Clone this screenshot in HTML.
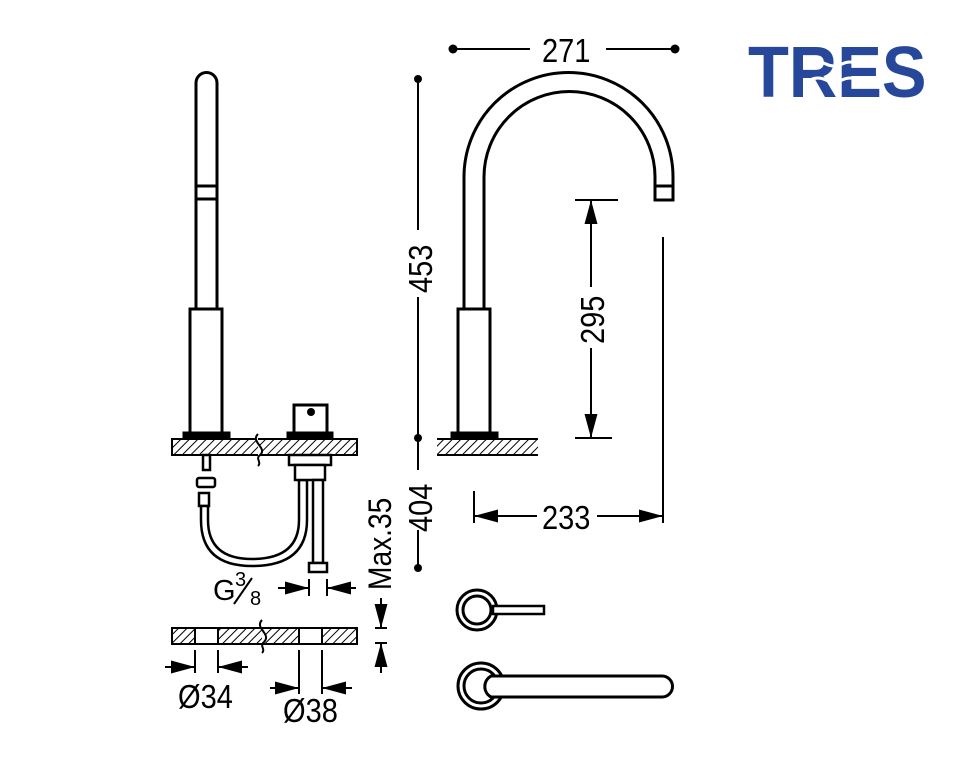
<!DOCTYPE html>
<html><head><meta charset="utf-8"><style>
html,body{margin:0;padding:0;background:#fff;width:976px;height:759px;overflow:hidden}
svg{display:block}
text{font-family:"Liberation Sans",sans-serif;fill:#000}
</style></head><body>
<svg width="976" height="759" viewBox="0 0 976 759" xmlns="http://www.w3.org/2000/svg">
<defs>
<pattern id="h" patternUnits="userSpaceOnUse" width="6" height="6" patternTransform="rotate(45)">
<rect width="6" height="6" fill="#fff"/><line x1="0" y1="0" x2="0" y2="6" stroke="#000" stroke-width="2"/>
</pattern>
<marker id="a" viewBox="0 0 10 10" refX="10" refY="5" markerWidth="24" markerHeight="24" markerUnits="userSpaceOnUse" orient="auto"><path d="M0,2.3 L10,5 L0,7.7Z" fill="#000"/></marker>
</defs>
<g fill="none" stroke="#000" stroke-width="3">
<path d="M196,309 V83 A10.5,10.5 0 0 1 217,83 V309"/>
<line x1="196" y1="186" x2="217" y2="186"/><line x1="196" y1="199" x2="217" y2="199"/>
<rect x="190" y="309" width="32" height="125"/>
<rect x="184" y="433" width="45" height="4" fill="#000"/>
<rect x="294" y="405" width="33" height="28"/>
<rect x="288" y="433" width="44" height="4" fill="#000"/>
</g>
<circle cx="311" cy="412" r="4" fill="#000"/>
<rect x="172" y="439" width="185" height="16" fill="url(#h)" stroke="#000" stroke-width="2"/>
<path d="M258,434 C250,442 268,448 260,455 C255,459 262,462 258,466" fill="#fff" stroke="#000" stroke-width="2"/>
<g fill="#fff" stroke="#000" stroke-width="2.5">
<rect x="203" y="455" width="7" height="15"/>
<rect x="197" y="478" width="18" height="9" rx="2"/>
<rect x="199" y="493" width="10" height="13"/>
<path d="M201,506 V520 Q201,566 252,566 Q307,566 307,520 V480 H299 V520 Q299,559 252,559 Q208,559 208,520 V506Z"/>
<rect x="289" y="455" width="42" height="10"/>
<rect x="295" y="465" width="30" height="15"/>
<rect x="313" y="480" width="10" height="83"/>
<rect x="309" y="563" width="18" height="9"/>
</g>
<text x="213" y="600" font-size="29">G</text>
<text x="235" y="586" font-size="20">3</text>
<line x1="234" y1="604" x2="252" y2="578" stroke="#000" stroke-width="2"/>
<text x="250" y="605" font-size="20">8</text>
<g stroke="#000" stroke-width="2">
<line x1="309" y1="579" x2="309" y2="596"/><line x1="327" y1="579" x2="327" y2="596"/>
<line x1="278" y1="588" x2="309" y2="588" marker-end="url(#a)"/>
<line x1="356" y1="588" x2="327" y2="588" marker-end="url(#a)"/>
</g>
<rect x="172" y="628" width="185" height="16" fill="url(#h)" stroke="#000" stroke-width="2"/>
<rect x="195" y="628" width="23" height="16" fill="#fff" stroke="#000" stroke-width="2"/>
<rect x="299" y="628" width="23" height="16" fill="#fff" stroke="#000" stroke-width="2"/>
<path d="M262,620 C254,628 272,634 264,642 C259,646 266,649 262,653" fill="#fff" stroke="#000" stroke-width="2"/>
<g stroke="#000" stroke-width="2">
<line x1="195" y1="650" x2="195" y2="673"/><line x1="218" y1="650" x2="218" y2="673"/>
<line x1="165" y1="667" x2="195" y2="667" marker-end="url(#a)"/>
<line x1="248" y1="667" x2="218" y2="667" marker-end="url(#a)"/>
<line x1="299" y1="650" x2="299" y2="694"/><line x1="322" y1="650" x2="322" y2="694"/>
<line x1="270" y1="688" x2="299" y2="688" marker-end="url(#a)"/>
<line x1="352" y1="688" x2="322" y2="688" marker-end="url(#a)"/>
<line x1="375" y1="628" x2="387" y2="628"/><line x1="375" y1="643" x2="387" y2="643"/>
<line x1="381" y1="598" x2="381" y2="628" marker-end="url(#a)"/>
<line x1="381" y1="673" x2="381" y2="643" marker-end="url(#a)"/>
</g>
<text x="178" y="708" font-size="33" transform="translate(178 0) scale(0.88 1) translate(-178 0)">Ø34</text>
<text x="283" y="722" font-size="33" transform="translate(283 0) scale(0.88 1) translate(-283 0)">Ø38</text>
<text transform="translate(391 590) rotate(-90) scale(0.88 1)" font-size="32">Max.35</text>
<g stroke="#000" stroke-width="2">
<line x1="418" y1="79" x2="418" y2="230"/><line x1="418" y1="297" x2="418" y2="470"/><line x1="418" y1="530" x2="418" y2="568"/>
</g>
<circle cx="418" cy="79" r="4" fill="#000"/><circle cx="418" cy="438" r="4" fill="#000"/><circle cx="418" cy="568" r="4" fill="#000"/>
<text transform="translate(432 293) rotate(-90) scale(0.88 1)" font-size="33">453</text>
<text transform="translate(432 532) rotate(-90) scale(0.88 1)" font-size="33">404</text>
<g stroke="#000" stroke-width="2"><line x1="453" y1="49" x2="530" y2="49"/><line x1="606" y1="49" x2="675" y2="49"/></g>
<circle cx="453" cy="49" r="4.5" fill="#000"/><circle cx="675" cy="49" r="4.5" fill="#000"/>
<text x="542" y="62" font-size="33" transform="translate(542 0) scale(0.88 1) translate(-542 0)">271</text>
<g fill="none" stroke="#000" stroke-width="3">
<path d="M464,309 V177 A104.5,104.5 0 0 1 673,177 V200 H655 V177 A85.5,85.5 0 0 0 484,177 V309"/>
<line x1="655" y1="186" x2="673" y2="186"/>
<rect x="458" y="309" width="32" height="125"/>
<rect x="452" y="433" width="45" height="4" fill="#000"/>
</g>
<rect x="437" y="439" width="101" height="16" fill="url(#h)" stroke="none"/>
<line x1="437" y1="439" x2="538" y2="439" stroke="#000" stroke-width="2"/>
<line x1="437" y1="455" x2="538" y2="455" stroke="#000" stroke-width="2"/>
<g stroke="#000" stroke-width="2">
<line x1="575" y1="200" x2="618" y2="200"/><line x1="575" y1="438" x2="612" y2="438"/>
<line x1="591" y1="287" x2="591" y2="200" marker-end="url(#a)"/>
<line x1="591" y1="348" x2="591" y2="438" marker-end="url(#a)"/>
<line x1="663" y1="237" x2="663" y2="523"/>
<line x1="474" y1="491" x2="474" y2="523"/>
<line x1="537" y1="516" x2="474" y2="516" marker-end="url(#a)"/>
<line x1="597" y1="516" x2="663" y2="516" marker-end="url(#a)"/>
</g>
<text transform="translate(604 344) rotate(-90) scale(0.88 1)" font-size="33">295</text>
<text x="542" y="529" font-size="33" transform="translate(542 0) scale(0.88 1) translate(-542 0)">233</text>
<g fill="#fff" stroke="#000" stroke-width="3">
<circle cx="477" cy="610" r="20"/>
<circle cx="477" cy="610" r="14"/>
<rect x="493" y="606" width="51" height="8" stroke-width="2.5"/>
<circle cx="481" cy="686" r="23"/>
<circle cx="481" cy="686" r="17"/>
<path d="M491,676 H662 A10.5,10.5 0 0 1 662,697 H491 A12,12 0 0 1 491,676Z"/>
</g>
<text x="748" y="97" font-size="72" font-weight="bold" style="fill:#27479a" transform="translate(748 0) scale(0.93 1) translate(-748 0)">TRES</text>
<g fill="none" stroke="#fff" stroke-width="3">
<path d="M810,64 q8,-4 16,0 t16,0 t16,0 t16,0"/>
<path d="M810,80 q8,-4 16,0 t16,0 t16,0 t16,0"/>
</g>
</svg>
</body></html>
